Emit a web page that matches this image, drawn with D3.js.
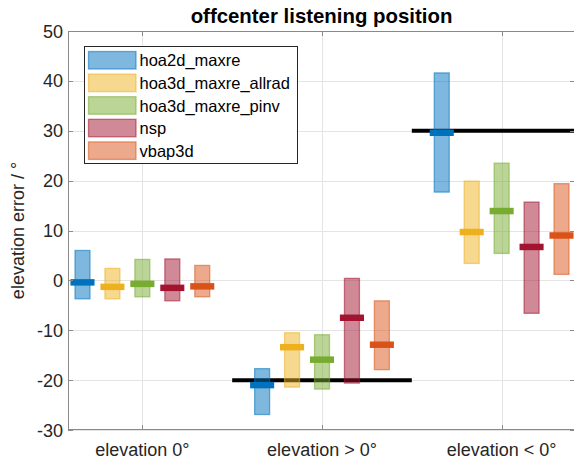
<!DOCTYPE html>
<html>
<head>
<meta charset="utf-8">
<script src="https://cdn.jsdelivr.net/npm/d3@7"></script>
<style>
  html, body { margin: 0; padding: 0; background: #fff; }
  svg { display: block; font-family: "Liberation Sans", Arial, Helvetica, sans-serif; }
</style>
</head>
<body>
<svg id="chart" width="574" height="461"></svg>
<script>
// Condition groups along the x axis
const groups = ["elevation 0°", "elevation > 0°", "elevation < 0°"];

// Rendering methods (one box per method and group)
const methods = ["hoa2d_maxre", "hoa3d_maxre_allrad", "hoa3d_maxre_pinv", "nsp", "vbap3d"];
const methodColors = ["#0072BD", "#EDB120", "#77AC30", "#A2142F", "#D95319"];

// Per method: lower quartile, median, upper quartile for each group (degrees)
const lowerValues = [
  [-3.7, -26.9, 17.7],
  [-3.7, -21.4, 3.4],
  [-3.3, -21.8, 5.4],
  [-4.1, -20.6, -6.6],
  [-3.3, -17.9, 1.2]
];
const medianValues = [
  [-0.4, -21.0, 29.6],
  [-1.3, -13.4, 9.7],
  [-0.7, -15.9, 13.9],
  [-1.5, -7.5, 6.7],
  [-1.2, -12.9, 9.0]
];
const upperValues = [
  [6.0, -17.7, 41.6],
  [2.4, -10.5, 19.9],
  [4.2, -10.9, 23.5],
  [4.3, 0.4, 15.7],
  [3.0, -4.1, 19.4]
];

// Reference (true) elevation drawn as a black bar behind the boxes
const targetGroups = ["elevation > 0°", "elevation < 0°"];
const targetValues = [-20, 30];

const yTicks = [-30, -20, -10, 0, 10, 20, 30, 40, 50];

const svg = d3.select("#chart");
const plot = { left: 68, right: 576, top: 31, bottom: 430 };

const x = d3.scaleLinear().domain([0.586, 3.414]).range([plot.left, plot.right]);
const y = d3.scaleLinear().domain([-30, 50]).range([plot.bottom, plot.top]);
const gx = g => groups.indexOf(g) + 1;

const boxOffset = i => (i - 2) / 6;
const boxHalf = 1 / 24;
const medHalf = 0.067;

svg.append("defs").append("clipPath").attr("id", "plotClip")
  .append("rect")
  .attr("x", plot.left).attr("y", plot.top)
  .attr("width", plot.right - plot.left).attr("height", plot.bottom - plot.top);

// Grid
const grid = svg.append("g").attr("stroke", "#e4e4e4").attr("stroke-width", 1);
grid.selectAll("line.h").data(yTicks).join("line")
  .attr("x1", plot.left).attr("x2", plot.right)
  .attr("y1", d => Math.round(y(d)) + 0.5).attr("y2", d => Math.round(y(d)) + 0.5);
grid.selectAll("line.v").data(groups).join("line")
  .attr("y1", plot.top).attr("y2", plot.bottom)
  .attr("x1", d => Math.round(x(gx(d))) + 0.5).attr("x2", d => Math.round(x(gx(d))) + 0.5);

const marks = svg.append("g").attr("clip-path", "url(#plotClip)");

// Reference elevation lines
marks.selectAll("line.target").data(targetGroups).join("line")
  .attr("x1", (d) => x(gx(d) - 0.5))
  .attr("x2", (d) => x(gx(d) + 0.5))
  .attr("y1", (d, i) => y(targetValues[i]))
  .attr("y2", (d, i) => y(targetValues[i]))
  .attr("stroke", "#000").attr("stroke-width", 4);

// Interquartile boxes and medians
methods.forEach((m, i) => {
  const col = methodColors[i];
  const gi = marks.append("g");
  gi.selectAll("rect").data(groups).join("rect")
    .attr("x", (d, j) => x(j + 1 + boxOffset(i) - boxHalf))
    .attr("width", x(1 + 2 * boxHalf) - x(1))
    .attr("y", (d, j) => y(upperValues[i][j]))
    .attr("height", (d, j) => y(lowerValues[i][j]) - y(upperValues[i][j]))
    .attr("fill", col).attr("fill-opacity", 0.5)
    .attr("stroke", col).attr("stroke-opacity", 0.55).attr("stroke-width", 1.3);
  gi.selectAll("line").data(groups).join("line")
    .attr("x1", (d, j) => x(j + 1 + boxOffset(i) - medHalf))
    .attr("x2", (d, j) => x(j + 1 + boxOffset(i) + medHalf))
    .attr("y1", (d, j) => y(medianValues[i][j]))
    .attr("y2", (d, j) => y(medianValues[i][j]))
    .attr("stroke", col).attr("stroke-width", 6.5);
});

// Axes box with inward ticks
const axisCol = "#8a8a8a";
const textCol = "#262626";
const ax = svg.append("g").attr("stroke", axisCol).attr("stroke-width", 1).attr("fill", "none");
ax.append("rect")
  .attr("x", plot.left + 0.5).attr("y", plot.top + 0.5)
  .attr("width", plot.right - plot.left - 1).attr("height", plot.bottom - plot.top - 1);
const tl = 5;
yTicks.forEach(t => {
  const yy = Math.round(y(t)) + 0.5;
  ax.append("line").attr("x1", plot.left).attr("x2", plot.left + tl).attr("y1", yy).attr("y2", yy);
  ax.append("line").attr("x1", plot.right - 1).attr("x2", plot.right - 1 - tl).attr("y1", yy).attr("y2", yy);
});
groups.forEach(g => {
  const xx = Math.round(x(gx(g))) + 0.5;
  ax.append("line").attr("x1", xx).attr("x2", xx).attr("y1", plot.bottom).attr("y2", plot.bottom - tl);
  ax.append("line").attr("x1", xx).attr("x2", xx).attr("y1", plot.top).attr("y2", plot.top + tl);
});

// Tick labels
svg.append("g").selectAll("text").data(yTicks).join("text")
  .attr("x", plot.left - 5).attr("y", d => y(d) + 6.5)
  .attr("text-anchor", "end").attr("font-size", 18).attr("fill", textCol)
  .text(d => d);
svg.append("g").selectAll("text").data(groups).join("text")
  .attr("x", d => x(gx(d))).attr("y", 456)
  .attr("text-anchor", "middle").attr("font-size", 18).attr("fill", textCol)
  .text(d => d);

// Axis label and title
svg.append("text")
  .attr("transform", `translate(24,${(plot.top + plot.bottom) / 2}) rotate(-90)`)
  .attr("text-anchor", "middle").attr("font-size", 18).attr("fill", textCol)
  .text("elevation error / °");
svg.append("text")
  .attr("x", (plot.left + plot.right) / 2 - 0.5).attr("y", 23)
  .attr("text-anchor", "middle").attr("font-size", 20.4).attr("font-weight", "bold")
  .attr("fill", "#000")
  .text("offcenter listening position");

// Legend
const lg = svg.append("g");
lg.append("rect")
  .attr("x", 84.5).attr("y", 46.5).attr("width", 213).attr("height", 117)
  .attr("fill", "#fff").attr("stroke", textCol).attr("stroke-width", 1);
const rowY = i => 60 + i * 22.6;
lg.selectAll("rect.sw").data(methods).join("rect")
  .attr("x", 88.5).attr("y", (d, i) => rowY(i) - 8.5)
  .attr("width", 47.5).attr("height", 17.5)
  .attr("fill", (d, i) => methodColors[i]).attr("fill-opacity", 0.5)
  .attr("stroke", (d, i) => methodColors[i]).attr("stroke-opacity", 0.55).attr("stroke-width", 1.3);
lg.selectAll("text").data(methods).join("text")
  .attr("x", 139.5).attr("y", (d, i) => rowY(i) + 6.3)
  .attr("font-size", 16.5).attr("fill", "#000")
  .text(d => d);
</script>
</body>
</html>
